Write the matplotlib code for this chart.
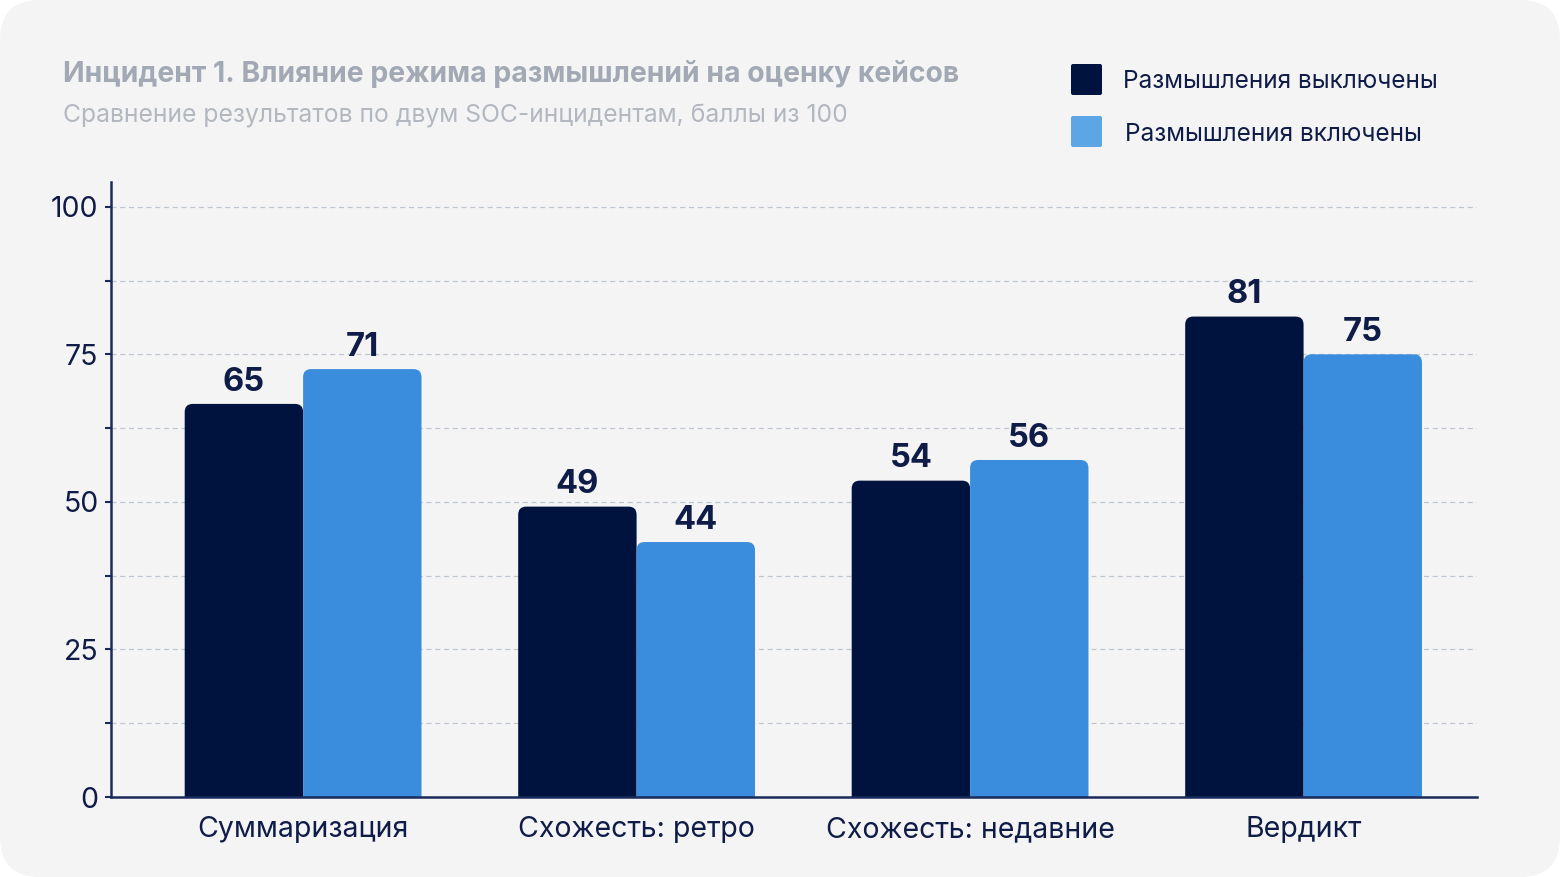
import matplotlib
matplotlib.use("Agg")
import matplotlib.pyplot as plt
import numpy as np
from matplotlib.patches import FancyBboxPatch
from matplotlib.transforms import IdentityTransform
from matplotlib.ticker import MultipleLocator

plt.rcParams['font.family'] = ['Inter', 'DejaVu Sans']

categories = ["Суммаризация", "Схожесть: ретро", "Схожесть: недавние", "Вердикт"]
series_names = ["Размышления выключены", "Размышления включены"]
off_values = [66.6, 49.2, 53.6, 81.4]
on_values = [72.5, 43.2, 57.1, 75.0]
off_labels = ["65", "49", "54", "81"]
on_labels = ["71", "44", "56", "75"]
yticks = [0, 25, 50, 75, 100]

title = "Инцидент 1. Влияние режима размышлений на оценку кейсов"
subtitle = "Сравнение результатов по двум SOC-инцидентам, баллы из 100"

DARK = "#00133f"
LIGHT = "#3a8ddd"
LEGEND_LIGHT = "#5ca6e6"
NAVY_TEXT = "#0f1c48"
AXIS = "#1b2a5c"

W, H = 1560, 877
fig = plt.figure(figsize=(W / 100, H / 100), dpi=100)
fig.patch.set_facecolor("white")
bg = FancyBboxPatch((0, 0), W, H, boxstyle="round,pad=0,rounding_size=40",
                    transform=IdentityTransform(), facecolor="#f4f4f4",
                    edgecolor="none", zorder=-10)
fig.patches.append(bg)

ax = fig.add_axes([111 / W, 1 - 797 / H, (1477 - 111) / W, (797 - 182) / H])
ax.set_facecolor("none")

x = np.arange(len(categories))
bw = 0.355
bars_off = ax.bar(x - bw / 2, off_values, bw, color=DARK)
bars_on = ax.bar(x + bw / 2, on_values, bw, color=LIGHT)

ax.set_xlim(-0.576, 3.52)
ax.set_ylim(0, 104.2)

# replace bars with rounded-top versions
rx = 8 / 333.5
ry = 8 / 5.9
for bars, col in ((bars_off, DARK), (bars_on, LIGHT)):
    for r in bars:
        r.set_visible(False)
        bx, by = r.get_x(), r.get_y()
        w, h = r.get_width(), r.get_height()
        p = FancyBboxPatch((bx, by - 3), w, h + 3,
                           boxstyle=f"round,pad=0,rounding_size={rx}",
                           mutation_aspect=ry / rx, facecolor=col,
                           edgecolor="none", zorder=3, clip_on=True)
        ax.add_patch(p)

for bars, labels in ((bars_off, off_labels), (bars_on, on_labels)):
    for r, lab in zip(bars, labels):
        ax.annotate(lab, (r.get_x() + r.get_width() / 2, r.get_height()),
                    xytext=(0, 9.5), textcoords="offset points",
                    ha="center", va="baseline", fontsize=23.5,
                    fontweight="bold", color=NAVY_TEXT, zorder=5)

ax.yaxis.set_major_locator(MultipleLocator(25))
ax.yaxis.set_minor_locator(MultipleLocator(12.5))
ax.set_yticks(yticks)
ax.set_yticklabels([str(v) for v in yticks])
ax.set_xticks(x)
ax.set_xticklabels(categories)

ax.grid(axis="y", which="both", linestyle=(0, (4, 3)), color="#c0c6d0",
        linewidth=0.9, zorder=0)
ax.set_axisbelow(True)

for s in ("top", "right"):
    ax.spines[s].set_visible(False)
for s in ("left", "bottom"):
    ax.spines[s].set_color(AXIS)
    ax.spines[s].set_linewidth(1.8)
    ax.spines[s].set_zorder(6)

ax.tick_params(axis="y", which="both", length=4, width=1.5, color=AXIS,
               labelsize=20.5, labelcolor=NAVY_TEXT, pad=5)
ax.tick_params(axis="x", length=0, labelsize=20.5, labelcolor=NAVY_TEXT, pad=14)

fig.text(63 / W, 1 - 82 / H, title, fontsize=20.4, fontweight="bold",
         color="#a2a9b4", ha="left", va="baseline")
fig.text(63 / W, 1 - 122 / H, subtitle, fontsize=17.8, color="#b3b8c0",
         ha="left", va="baseline")

# legend
for i, (name, col) in enumerate(zip(series_names, [DARK, LEGEND_LIGHT])):
    top = 64 + i * 52
    sq = FancyBboxPatch((1071, H - top - 31), 31, 31,
                        boxstyle="round,pad=0,rounding_size=2",
                        transform=IdentityTransform(), facecolor=col,
                        edgecolor="none")
    fig.patches.append(sq)
    fig.text((1123 + i * 2) / W, 1 - (top + 15.5) / H, name, fontsize=17.5,
             color=NAVY_TEXT, ha="left", va="center_baseline")

fig.savefig("out.png", dpi=100, facecolor=fig.get_facecolor())
